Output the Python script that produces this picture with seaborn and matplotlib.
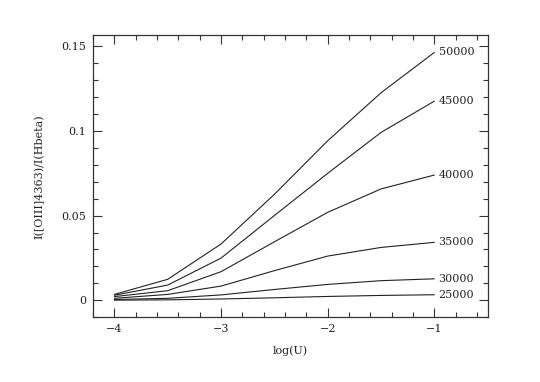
import numpy as np
import pandas as pd
import matplotlib
matplotlib.use("Agg")
import matplotlib.pyplot as plt
import seaborn as sns
from matplotlib.ticker import MultipleLocator

# log(U) grid
logU = [-4.0, -3.5, -3.0, -2.5, -2.0, -1.5, -1.0]

# temperature labels
temps = ["25000", "30000", "35000", "40000", "45000", "50000"]

# ratio I([OIII]4363)/I(Hbeta) per temperature
t25000 = [0.0001, 0.0003, 0.0008, 0.0015, 0.0023, 0.0029, 0.0033]
t30000 = [0.0005, 0.0012, 0.0032, 0.0064, 0.0094, 0.0116, 0.0127]
t35000 = [0.0012, 0.0035, 0.0084, 0.0175, 0.0261, 0.0312, 0.0342]
t40000 = [0.0022, 0.0057, 0.0169, 0.0345, 0.0519, 0.0657, 0.0739]
t45000 = [0.0030, 0.0090, 0.0249, 0.0500, 0.0749, 0.0990, 0.1175]
t50000 = [0.0035, 0.0124, 0.0332, 0.0625, 0.0941, 0.1224, 0.1462]

series = [t25000, t30000, t35000, t40000, t45000, t50000]

rows = []
for name, vals in zip(temps, series):
    for x, y in zip(logU, vals):
        rows.append({"logU": x, "ratio": y, "T": name})
df = pd.DataFrame(rows)

sns.set_style("ticks")
plt.rcParams['font.family'] = ['DejaVu Serif']

fig = plt.figure(figsize=(5.4, 3.82), dpi=100)
ax = fig.add_axes([93 / 540, 1 - 317.3 / 382, (487.7 - 93) / 540, (317.3 - 35.3) / 382])

sns.lineplot(data=df, x="logU", y="ratio", hue="T", palette=["#222222"] * len(temps),
             linewidth=0.8, legend=False, ax=ax)

# labels at the right end of each curve
for name, vals in zip(temps, series):
    ax.annotate(name, xy=(logU[-1], vals[-1]), xytext=(3, 0), textcoords="offset points",
                va="center", ha="left", fontsize=8, color="#222222")

ax.set_xlim(-4.2, -0.5)
ax.set_ylim(-0.01, 0.1563)
ax.set_xticks([-4, -3, -2, -1])
ax.set_xticklabels(["\u22124", "\u22123", "\u22122", "\u22121"])
ax.set_yticks([0, 0.05, 0.1, 0.15])
ax.set_yticklabels(["0", "0.05", "0.1", "0.15"])
ax.xaxis.set_minor_locator(MultipleLocator(0.2))
ax.yaxis.set_minor_locator(MultipleLocator(0.01))
ax.tick_params(which="both", direction="in", top=True, right=True, color="#333333",
               labelsize=8, labelcolor="#222222")
ax.tick_params(which="major", length=6.5, width=0.8, pad=5)
ax.tick_params(which="minor", length=3.5, width=0.8)
for s in ax.spines.values():
    s.set_linewidth(0.9)
    s.set_color("#333333")

ax.set_xlabel("log(U)", fontsize=8, color="#222222", labelpad=8)
ax.set_ylabel("I([OIII]4363)/I(Hbeta)", fontsize=8, color="#222222", labelpad=12)

fig.savefig("out.png", dpi=100)
